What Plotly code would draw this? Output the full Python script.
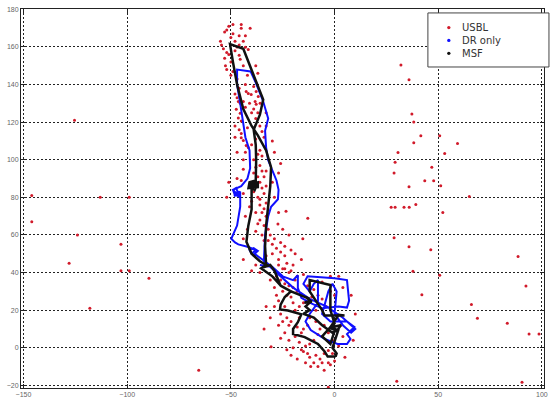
import plotly.graph_objects as go

# USBL position fixes (x, y in metres)
usbl_x = [
    # upper track
    -45, -40.7, -45, -46, -43, -54.5, -53.6, -52, -51, -52.6, -52, -46, -45.5, -43, -41.6,
    -48, -50, -47, -44, -42, -50, -38, -37, -48, -55, -49, -52, -51, -49, -53,
    -42.6, -41.6, -40.2, -37.8, -36.8, -38.3, -37.8, -35.9, -46.4, -45.5, -47.4, -45.5,
    -46.4, -45, -45, -44, -42.6, -41.6, -40, -38, -36, -34, -36, -35, -42, -48, -48,
    -47, -44, -43, -39, -30, -29, -33,
    -44, -46, -53, -50, -49, -47, -46, -48, -47, -44, -43, -41, -39, -37, -46, -45, -43,
    -40, -38, -35, -33, -39, -37,
    # middle track
    -36, -35, -34, -36, -35, -34, -37, -36, -34, -38, -33, -36, -34, -38, -35, -30, -29,
    -27, -23.4, -12.9, -27.3, -25, -22, -15.3, -44, -39, -47, -40, -43, -51, -27, -26, -52,
    -38, -33, -37, -33, -39, -36, -33, -35, -37, -32, -31, -29, -34, -26, -24, -21, -45,
    -44, -41, -42, -44,
    # lower track
    -32, -30, -28, -26, -24, -30, -27, -23, -20, -16, -25, -22, -28, -36, -38, -44, -40,
    -31, -19, -33, -27, -24, -21, -18, -26,
    # bottom cluster
    -24, -22, -20, -18, -23, -28, -27, -29, -24, -20, -19, -23, -25, -27, -22, -18, -24,
    -26, -22, -17, -20, -23, -15, -12, -10, -11.5, -7, -5, -3, -14, -10, -6, -16, -13, -9,
    -7, -3, -1, 2, 4, 3, -4, -8, -10, -13, -6, -2, 2, -15, -17, -21, -18, -8, -3, 0, 5,
    -30.6, -34, -31, -33, -15, -11, 0, 4, 8, 10, 9,
    -29, -25, -21, -26, -21, -19, -16, -13, -9, -6, -2, -1, -12, -8, -5, -15, -12, -9,
    -17, -6, -2, -19, -5, -14,
    # scattered fixes, east side
    32, 35.9, 37.3, 38.2, 41.6, 38.2, 50.7, 59.3, 53.1, 30.6, 29.2, 28.7, 46.9, 43.5, 47.8,
    51.2, 35.9, 65, 39.2, 27.3, 29.2, 33.5, 36, 52.2, 28.7, 35.9, 46.4, 88.5, 37.8, 50.7,
    42.1, 92.3, 66, 68.9, 83.3, 93.8, 98.6, 90.4, 30, -3,
    # scattered fixes, west side
    -125.4, -146, -146, -124, -128, -103, -113, -99, -103, -99, -89.5, -118, -65.5,
]
usbl_y = [
    172, 170, 170, 166, 166, 161, 159, 157, 156, 150, 148, 155.6, 153.5, 159.8, 158.7,
    163, 165, 160, 150, 145, 145, 150, 146, 158, 163, 167, 169, 171, 172, 168,
    136.3, 135.2, 134.7, 136.3, 133.7, 131, 129.5, 130, 131, 130, 126.9, 124.8,
    122.2, 120.6, 111.7, 110.2, 107.6, 106.5, 125, 122, 118, 112, 105, 102, 117, 118, 112,
    104, 100, 140, 139, 110, 104, 125,
    163, 161, 154, 152, 147, 143, 138, 135, 133, 131, 128, 130, 127, 125, 116, 114, 104,
    108, 111, 115, 118, 100, 103,
    97, 94, 91, 88, 85, 82, 80, 76, 74, 72, 70, 68, 65, 62, 60, 88, 80,
    72, 72.6, 68.9, 65.8, 63, 60, 58, 95, 93, 90, 78, 70, 88, 93, 98, 80,
    96, 94, 91, 86, 83, 79, 77, 72, 66, 63, 60, 58, 57, 56, 54, 52, 89,
    82, 75, 63, 58,
    57, 55, 53, 51, 49, 50, 47, 45, 44, 47, 42, 40, 38, 40, 44, 47, 41,
    36, 50, 49, 44, 42, 41, 38, 36,
    34, 33, 32, 30, 28, 28, 25, 22, 22, 24, 20, 16, 14, 12, 12, 11, 8,
    5, 4, 3, 0, -1, -2, -5, -8, -10, -6, -3, -1.4, 1, 4, 6, 8, 12, 14,
    10, 8, 4, 1, 6, 12, 22, 28, 31, 33, 35, 38, 38, 39, 16, -4, -6, -10, -8, -7, -5,
    0.5, 10, 16, 22, 24, 27, 28, 32, 28, 18, 4,
    32, 30, 27, 18, 14, 6, -1, -3, -4, -8, -9, -3, 2, 7, 12, 10, 16, 20,
    22, 26, 30, 36, -12, -8,
    150.4, 142.6, 124.3, 120.1, 112.8, 109.1, 112.8, 108.6, 103.4, 103.9, 98.7, 93, 96,
    88.8, 88.8, 86.2, 85.6, 80.4, 76.2, 74.7, 74.7, 74.7, 74.7, 72, 58.5, 53.8, 52.2, 48.6,
    40.7, 38.6, 28.2, 32.9, 23, 15.7, 13.1, 7.3, 7.3, -18.3, -17.8, -21,
    121, 81, 67, 60, 45, 55, 80, 80, 41, 41, 37, 21, -12,
]

# Dead-reckoning-only track
dr_x = [
    -36, -30, -25, -20, -17.7, -17.7, -16, -12, -6, 2, 6, 7, 6, 0, -13, -15, -12, -10, -8,
    -8, -12, -14, -11.5, -4.8, 1.4, 6, 7.7, 6, 9.6, 6, -2, -6, -3, -1, 1, 0, 4, 8, 10, 4,
    -4, -12, -20, -28, -34,
    -34, -33.5, -32, -30.6, -27.3, -27, -28, -32, -33, -33.5, -32, -34.4, -38, -40.5, -47,
    -47, -45.5, -44, -43, -41, -40.7, -42, -45, -49, -48, -46, -48.5, -45.5, -49, -47.5,
    -46, -48.5, -45.5, -45.5, -47,
    -49.8, -48, -46.4, -41.6, -38, -40, -41, -39, -37, -39.5, -38, -36, -33.5, -30,
]
dr_y = [
    44, 43, 38, 36, 38.6, 31.9, 26.6, 24, 21, 22, 21.4, 25, 36, 37, 38, 34, 30, 34, 36,
    24, 18, 14, 9.4, 4.7, 2, 2, 4.7, 7.3, 11, 14, 14, 18, 30, 34, 30, 18, 12, 8, 10, 16,
    22, 26, 32, 40, 46,
    48, 60, 70, 75, 79, 84, 89, 99.7, 106.5, 115.4, 122, 131, 141, 147, 148,
    140, 130, 120, 112, 105, 95.5, 90, 86, 84, 81, 83, 82, 80, 84, 85,
    81, 81, 83, 75, 65,
    58, 56, 55, 53.6, 52, 50, 52, 53, 51.5, 49, 49.5, 48, 45.9, 43,
]

# Multi-sensor fusion track
msf_x = [
    0.5, -3.3, -4.8, -8, -14.4, -20, -20, -17.7, -16, -22.5, -26.3, -26, -24, -21, -26,
    -29, -31, -35, -33, -33.5, -33, -32, -31, -30.6, -33, -37, -40, -44, -47, -49, -50.4,
    -44, -34.4, -36, -39, -38, -37.8, -38, -41, -41.5, -37, -37, -40.5, -39, -41.5, -37.5,
    -38.5, -40, -40, -41.6, -42.5,
    -40, -36, -33, -35.4, -30, -25.8, -21, -16, -12, -14, -11, -14.5, -12, -12, -14, -12,
    -15, -10, -6, -1, 1.4, 3, -1, 2, -2, 0, -2, -2, -12, -12, -6, -4.8, 4.8, 2, -2, -6,
    -2, 0, 2, -1, 1, 0.5,
]
msf_y = [
    -4.7, -4.7, -2, 2, 5.7, 7.3, 10, 13.6, 17.8, 19.8, 20.4, 23, 27, 30, 33,
    41, 44, 42.5, 44, 54, 65, 77, 86, 96, 105, 113, 118, 127, 140, 152, 161.5,
    159, 132, 124, 116, 108, 99.7, 89, 88, 85, 85.5, 88, 87, 84, 86.5, 86.5,
    84, 86, 73.6, 64.8, 56.4,
    50, 46, 44, 42.3, 38, 32.9, 30, 28, 26, 27, 24.5, 24, 25, 24, 22, 20,
    18, 16, 12, 8, 9.4, 12, 11, 8.5, 10.5, 13, 20, 33.4, 36, 30, 20, 17.2, 17.2, 17.5,
    11, 6, 2, 9, 10, 0, -3, -4.7,
]

fig = go.Figure()
fig.add_trace(go.Scatter(
    x=usbl_x, y=usbl_y, mode="markers", name="USBL",
    marker=dict(color="#d11a2a", size=3, line=dict(width=0)),
))
fig.add_trace(go.Scatter(
    x=dr_x, y=dr_y, mode="lines", name="DR only",
    line=dict(color="#1010ff", width=2),
))
fig.add_trace(go.Scatter(
    x=msf_x, y=msf_y, mode="lines", name="MSF",
    line=dict(color="#111111", width=2.5),
))

axis_common = dict(
    showgrid=True, gridcolor="#222222", gridwidth=1, griddash="2px,2px",
    showline=True, linecolor="#222222", linewidth=1, mirror="ticks",
    ticks="inside", ticklen=4, tickcolor="#222222",
    tickfont=dict(family="Liberation Sans, Arial", size=7, color="#666666"),
    zeroline=False,
)
fig.update_xaxes(range=[-151.2, 101], tickvals=[-150, -100, -50, 0, 50, 100], **axis_common)
fig.update_yaxes(range=[-21.4, 180.2], tickvals=list(range(-20, 181, 20)), **axis_common)

# Legend box drawn in paper coordinates
legend_items = [("USBL", "#d11a2a"), ("DR only", "#1010ff"), ("MSF", "#111111")]
shapes = [dict(type="rect", xref="paper", yref="paper", x0=0.778, x1=1.0095, y0=0.847, y1=0.9896,
               line=dict(color="#444444", width=1), fillcolor="white", layer="above")]
annotations = []
for i, (label, color) in enumerate(legend_items):
    yc = 0.951 - i * 0.034
    shapes.append(dict(type="circle", xref="paper", yref="paper",
                       x0=0.818 - 0.0032, x1=0.818 + 0.0032, y0=yc - 0.0044, y1=yc + 0.0044,
                       fillcolor=color, line=dict(width=0), layer="above"))
    annotations.append(dict(text=label, xref="paper", yref="paper", x=0.8387, y=yc,
                            xanchor="left", yanchor="middle", showarrow=False,
                            font=dict(family="DejaVu Sans", size=10, color="#333333")))

fig.update_layout(
    width=554, height=404,
    margin=dict(l=21, r=6, t=6, b=12),
    plot_bgcolor="white", paper_bgcolor="white",
    showlegend=False, shapes=shapes, annotations=annotations,
)

fig.write_html("out.html")
